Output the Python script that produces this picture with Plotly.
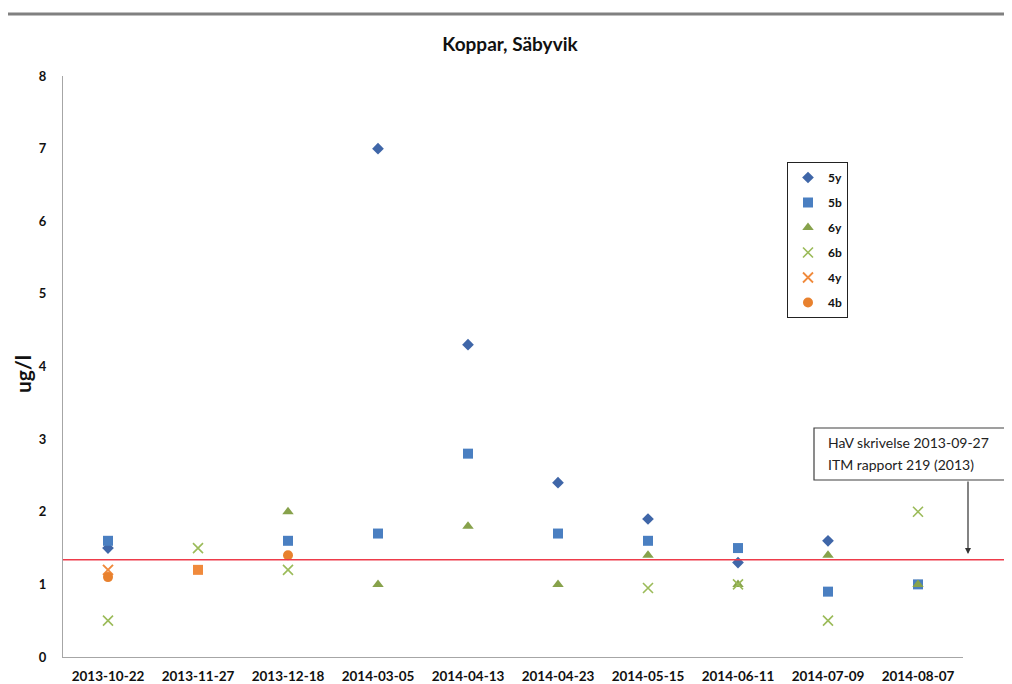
import plotly.graph_objects as go

# ---- data ----
dates = ["2013-10-22", "2013-11-27", "2013-12-18", "2014-03-05", "2014-04-13",
         "2014-04-23", "2014-05-15", "2014-06-11", "2014-07-09", "2014-08-07"]
s5y = [1.5, None, None, 7.0, 4.3, 2.4, 1.9, 1.3, 1.6, None]
s5b = [1.6, None, 1.6, 1.7, 2.8, 1.7, 1.6, 1.5, 0.9, 1.0]
s6y = [None, None, 2.0, 1.0, 1.8, 1.0, 1.4, 1.0, 1.4, 1.0]
s6b = [0.5, 1.5, 1.2, None, None, None, 0.95, 1.0, 0.5, 2.0]
s4y = [1.2, 1.2, None, None, None, None, None, None, None, None]
s4y_symbols = ["x-thin", "square", "x-thin", "x-thin", "x-thin", "x-thin", "x-thin", "x-thin", "x-thin", "x-thin"]
s4b = [1.1, None, 1.4, None, None, None, None, None, None, None]
threshold = 1.34
title = "Koppar, Säbyvik"
ytitle = "ug/l"
note_lines = ["HaV skrivelse 2013-09-27", "ITM rapport 219 (2013)"]

FONT = "Lato, 'Open Sans', 'DejaVu Sans', sans-serif"

fig = go.Figure()

def add(name, vals, symbol, color, size, line=None):
    marker = dict(symbol=symbol, color=color, size=size)
    if line:
        marker["line"] = line
    fig.add_trace(go.Scatter(x=dates, y=vals, mode="markers", name=name,
                             legendgroup=name, marker=marker))

add("5y", s5y, "diamond", "#3F66A8", 9)
add("5b", s5b, "square", "#4A7FC1", 10)
add("6y", s6y, "triangle-up", "#87A24B", 10)
add("6b", s6b, "x-thin", "#9BBB59", 10, dict(color="#9BBB59", width=1.6))
# 4y: second point drawn as a square in the original
s4y_linew = [0 if s == "square" else 2 for s in s4y_symbols]
fig.add_trace(go.Scatter(x=dates, y=s4y, mode="markers", name="4y", legendgroup="4y",
                         marker=dict(symbol=s4y_symbols, color="#F08A3C", size=10,
                                     line=dict(color="#F08A3C", width=s4y_linew))))
add("4b", s4b, "circle", "#E8812E", 10)

# page is rendered with an 8px body margin, so the figure is 8px smaller
OFF = 8
W, H = 1012 - OFF, 684 - OFF
L, T = 63 - OFF, 76 - OFF
R = W - (963 - OFF)
B = H - (657 - OFF)
PW, PH = W - L - R, H - T - B

def px(xp):  # page x -> paper
    return (xp - OFF - L) / PW

def py(yp):  # page y -> paper
    return (H - B - (yp - OFF)) / PH

shapes = [
    # top gray rule
    dict(type="line", xref="paper", yref="paper", x0=px(4), x1=px(1020), y0=py(14), y1=py(14),
         line=dict(color="#808080", width=3)),
    # threshold line
    dict(type="line", xref="paper", yref="y", x0=0, x1=px(1020), y0=threshold, y1=threshold,
         line=dict(color="#EE3B4A", width=1.4)),
    # note box
    dict(type="rect", xref="paper", yref="paper", x0=px(814), x1=px(1020), y0=py(480), y1=py(428),
         line=dict(color="#404040", width=1.2), fillcolor="white"),
]

annotations = [
    dict(xref="paper", yref="paper", x=px(826), y=py(442), text=note_lines[0],
         showarrow=False, xanchor="left", yanchor="middle",
         font=dict(family=FONT, size=14, color="#222")),
    dict(xref="paper", yref="paper", x=px(826), y=py(464), text=note_lines[1],
         showarrow=False, xanchor="left", yanchor="middle",
         font=dict(family=FONT, size=14, color="#222")),
    dict(xref="paper", yref="paper", x=px(968), y=py(554), text="",
         showarrow=True, axref="pixel", ayref="pixel", ax=0, ay=-74,
         arrowhead=2, arrowsize=1, arrowwidth=1.2, arrowcolor="#333"),
    # y-axis title
    dict(xref="paper", yref="paper", x=px(22), y=py(374), text=ytitle, textangle=-90,
         showarrow=False, xanchor="center", yanchor="middle",
         font=dict(family=FONT, size=21, color="#111", weight="bold")),
]

fig.update_layout(
    width=W, height=H,
    margin=dict(l=L, r=R, t=T, b=B),
    paper_bgcolor="white", plot_bgcolor="white",
    title=dict(text=title, x=0.5, xanchor="center", y=1 - (44 - OFF) / H, yanchor="middle",
               font=dict(family=FONT, size=19, color="#111", weight="bold")),
    font=dict(family=FONT, color="#111"),
    showlegend=True,
    legend=dict(x=px(787), y=py(162), xanchor="left", yanchor="top",
                bordercolor="#222", borderwidth=1, bgcolor="white",
                font=dict(family=FONT, size=12, color="#111", weight="bold"),
                traceorder="grouped", tracegroupgap=6),
    shapes=shapes,
    annotations=annotations,
    xaxis=dict(type="category", range=[-0.5, 9.5], showgrid=False, zeroline=False,
               showline=True, linecolor="#A6A6A6", linewidth=1.2, ticks="",
               automargin=False,
               tickfont=dict(family=FONT, size=13.5, color="#111", weight="bold"),
               ticklabelstandoff=7, fixedrange=True),
    yaxis=dict(range=[0, 8], dtick=1, showgrid=False, zeroline=False,
               showline=True, linecolor="#A6A6A6", linewidth=1.2, ticks="",
               automargin=False,
               tickfont=dict(family=FONT, size=13, color="#111", weight="bold"),
               ticklabelstandoff=13),
)

fig.write_html("out.html")
